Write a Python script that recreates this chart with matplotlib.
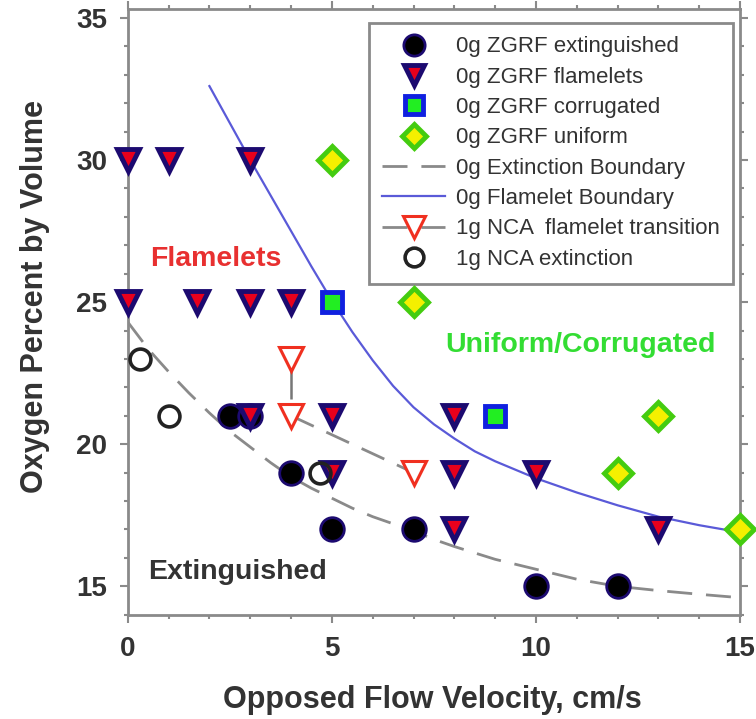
import matplotlib
matplotlib.use("Agg")
import matplotlib.pyplot as plt
from matplotlib.ticker import MultipleLocator

plt.rcParams["font.family"] = ["Liberation Sans", "DejaVu Sans"]

# 0g ZGRF observations
ext_x = [2.5, 3, 4, 5, 7, 10, 12]
ext_y = [21, 21, 19, 17, 17, 15, 15]

flm_x = [0, 1, 3, 0, 1.7, 3, 4, 3, 5, 8, 5, 8, 10, 8, 13]
flm_y = [30, 30, 30, 25, 25, 25, 25, 21, 21, 21, 19, 19, 19, 17, 17]

cor_x = [5, 9]
cor_y = [25, 21]

uni_x = [5, 7, 13, 12, 15]
uni_y = [30, 25, 21, 19, 17]

# boundaries
ext_bnd_x = [0, 0.5, 1, 1.5, 2, 2.5, 3, 3.5, 4, 4.5, 5, 5.5, 6, 6.5, 7, 7.5, 8,
             9, 10, 11, 12, 13, 14, 15]
ext_bnd_y = [24.3, 23.35, 22.55, 21.8, 21.1, 20.45, 19.9, 19.35, 18.85, 18.45,
             18.1, 17.75, 17.45, 17.2, 16.95, 16.65, 16.4, 15.95, 15.6, 15.25,
             15.0, 14.85, 14.72, 14.6]

flm_bnd_x = [2, 2.5, 3, 3.5, 4, 4.5, 5, 5.5, 6, 6.5, 7, 7.5, 8, 8.5, 9, 10, 11,
             12, 13, 14, 15]
flm_bnd_y = [32.6, 31.3, 30.0, 28.75, 27.5, 26.25, 25.05, 23.95, 22.95, 22.05,
             21.3, 20.7, 20.2, 19.75, 19.4, 18.8, 18.3, 17.85, 17.45, 17.15,
             16.9]

# 1g NCA
nca_tr_x = [4, 7]
nca_tr_y = [21, 19]
nca_tr_top_x = [4]
nca_tr_top_y = [23]
nca_tr_err = [1.4]

nca_ext_x = [0.3, 1, 4.7]
nca_ext_y = [23, 21, 19]

GRAY = "#8a8a8a"
NAVY = "#1c0a70"
TXT = "#333333"

fig = plt.figure(figsize=(7.56, 7.19), dpi=100)
ax = fig.add_axes([0.169, 0.145, 0.81, 0.842])

ax.plot(ext_bnd_x, ext_bnd_y, color=GRAY, lw=2, dashes=(9, 5),
        label="0g Extinction Boundary", zorder=2)
ax.plot(flm_bnd_x, flm_bnd_y, color="#5a5ad8", lw=1.6,
        label="0g Flamelet Boundary", zorder=2)

ax.plot(ext_x, ext_y, "o", ms=17, mfc="black", mec=NAVY, mew=2,
        label="0g ZGRF extinguished", zorder=4, clip_on=False)
ax.plot(flm_x, flm_y, "v", ms=16, mfc="#e8001c", mec=NAVY, mew=3.5,
        label="0g ZGRF flamelets", zorder=5, clip_on=False)
ax.plot(cor_x, cor_y, "s", ms=14, mfc="#22ee22", mec="#1020e0", mew=3.5,
        label="0g ZGRF corrugated", zorder=4, clip_on=False)
ax.plot(uni_x, uni_y, "D", ms=14, mfc="#f4f000", mec="#44cc10", mew=3.5,
        label="0g ZGRF uniform", zorder=6, clip_on=False)

ax.errorbar(nca_tr_top_x, nca_tr_top_y, yerr=[nca_tr_err, [0]], fmt="none",
            ecolor="#777777", elinewidth=1.8, zorder=3)
ax.plot(nca_tr_top_x, nca_tr_top_y, "v", ms=17, mfc="white", mec="#f03020",
        mew=2.2, zorder=6)
ax.plot(nca_tr_x, nca_tr_y, color=GRAY, lw=2, dashes=(9, 5), marker="v",
        ms=17, mfc="white", mec="#f03020", mew=2.2,
        label="1g NCA  flamelet transition", zorder=6)
ax.plot(nca_ext_x, nca_ext_y, "o", ms=15, mfc="none", mec="#222222", mew=2.6,
        label="1g NCA extinction", zorder=6, clip_on=False)

ax.text(2.15, 26.5, "Flamelets", color="#e83030", fontsize=20.5,
        fontweight="bold", ha="center", va="center")
ax.text(11.1, 23.5, "Uniform/Corrugated", color="#33dd33", fontsize=20.5,
        fontweight="bold", ha="center", va="center")
ax.text(2.7, 15.5, "Extinguished", color=TXT, fontsize=20.5,
        fontweight="bold", ha="center", va="center")

ax.set_xlim(0, 15)
ax.set_ylim(14, 35.3)
ax.xaxis.set_major_locator(MultipleLocator(5))
ax.xaxis.set_minor_locator(MultipleLocator(1))
ax.yaxis.set_major_locator(MultipleLocator(5))
ax.yaxis.set_minor_locator(MultipleLocator(1))
ax.tick_params(which="both", colors=GRAY, labelcolor=TXT,
               right=True, top=True, width=1.5)
ax.tick_params(which="major", length=6, labelsize=20, pad=9)
ax.tick_params(which="minor", length=3)
for lab in ax.get_xticklabels() + ax.get_yticklabels():
    lab.set_fontweight("bold")
for s in ax.spines.values():
    s.set_color(GRAY)
    s.set_linewidth(2)

ax.set_xlabel("Opposed Flow Velocity, cm/s", fontsize=22, fontweight="bold",
              color=TXT, va="center")
ax.set_ylabel("Oxygen Percent by Volume", fontsize=22, fontweight="bold",
              color=TXT, va="center")
ax.xaxis.set_label_coords(0.497, -0.14)
ax.yaxis.set_label_coords(-0.152, 0.525)

order = ["0g ZGRF extinguished", "0g ZGRF flamelets", "0g ZGRF corrugated",
         "0g ZGRF uniform", "0g Extinction Boundary", "0g Flamelet Boundary",
         "1g NCA  flamelet transition", "1g NCA extinction"]
handles, labels = ax.get_legend_handles_labels()
hmap = dict(zip(labels, handles))
leg = ax.legend([hmap[k] for k in order], order, loc="upper right",
                bbox_to_anchor=(0.989, 0.978), borderaxespad=0, fontsize=16,
                labelspacing=0.42, handlelength=2.8, handletextpad=0.5,
                markerscale=0.9, fancybox=False, framealpha=1, edgecolor=GRAY,
                labelcolor=TXT, borderpad=0.62)
leg.get_frame().set_linewidth(2)
leg.set_zorder(5)

fig.savefig("out.png", dpi=100)
